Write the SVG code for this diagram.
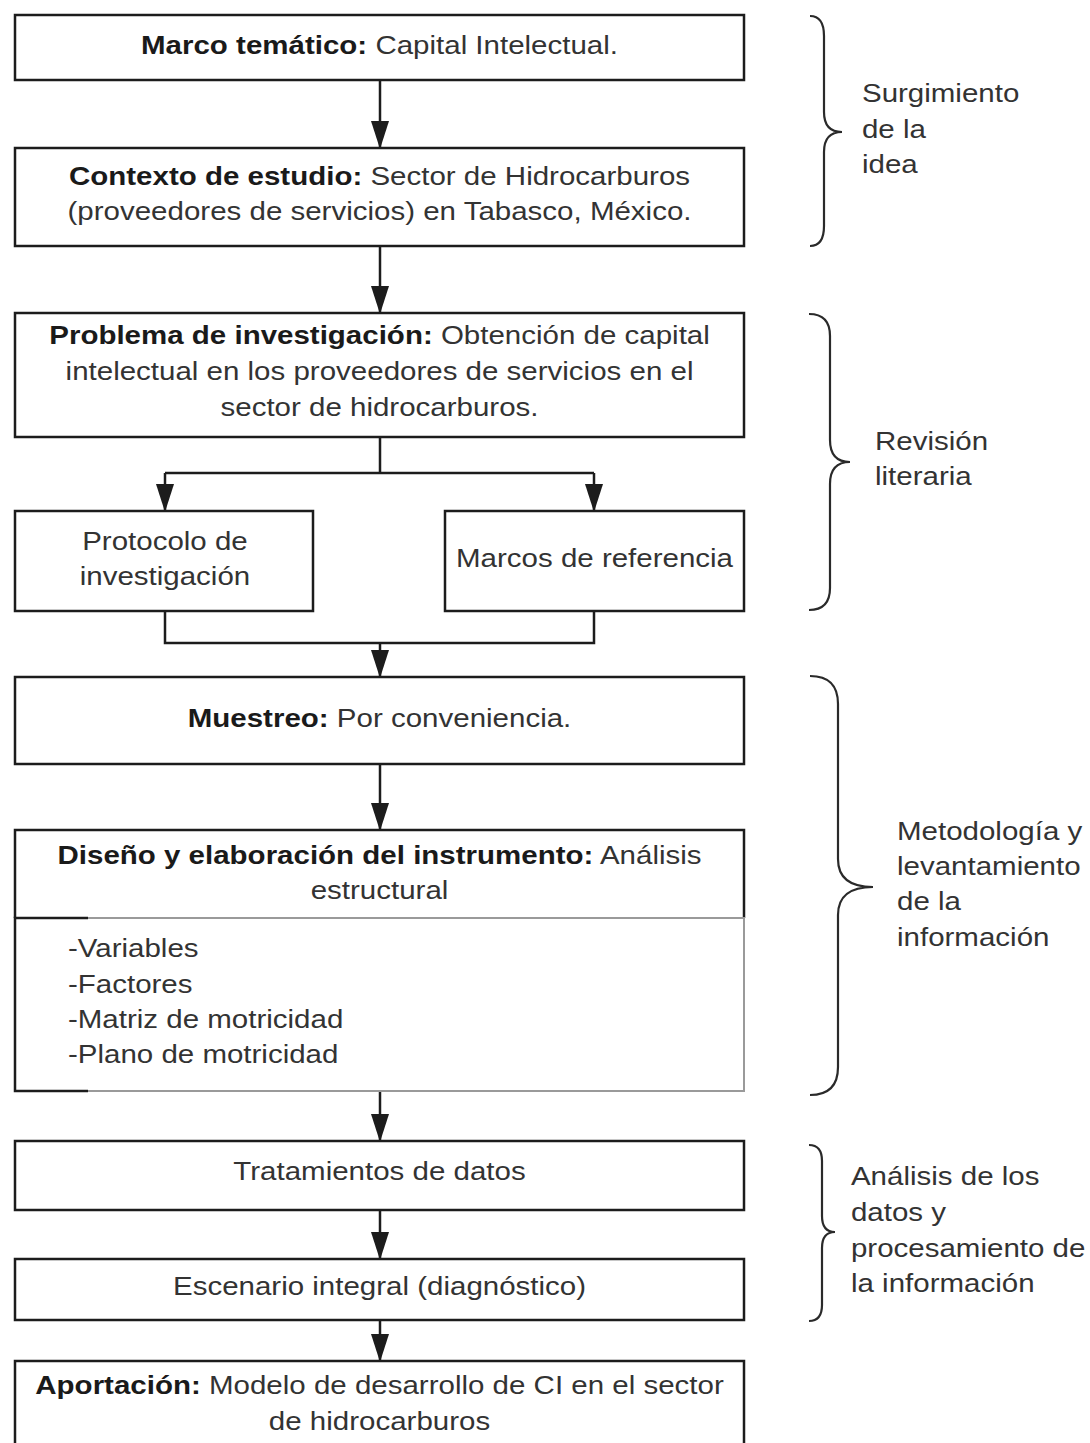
<svg xmlns="http://www.w3.org/2000/svg" width="1090" height="1443" viewBox="0 0 1090 1443">
<style>
.box{fill:#fff;stroke:#1c1c1c;stroke-width:2.5}
.ln{fill:none;stroke:#1c1c1c;stroke-width:2.5}
.gr{fill:none;stroke:#9a9a9a;stroke-width:2}
.br{fill:none;stroke:#2a2a2a;stroke-width:2.2}
text{font-family:"Liberation Sans",Arial,sans-serif;font-size:26px;fill:#333}
.c{text-anchor:middle}
.b{font-weight:bold;fill:#1a1a1a}
</style>
<defs>
<marker id="ah" viewBox="0 0 28 18" refX="27" refY="9" markerWidth="28" markerHeight="18" markerUnits="userSpaceOnUse" orient="auto">
<path d="M0,0 L28,9 L0,18 z" fill="#1c1c1c"/>
</marker>
</defs>
<rect width="1090" height="1443" fill="#fff"/>

<g id="connectors">
<path class="ln" d="M380,80 V148" marker-end="url(#ah)"/>
<path class="ln" d="M380,246 V313" marker-end="url(#ah)"/>
<path class="ln" d="M380,437 V473 M165,473 H594"/>
<path class="ln" d="M165,473 V511" marker-end="url(#ah)"/>
<path class="ln" d="M594,473 V511" marker-end="url(#ah)"/>
<path class="ln" d="M165,611 V643 H594 V611"/>
<path class="ln" d="M380,643 V677" marker-end="url(#ah)"/>
<path class="ln" d="M380,764 V830" marker-end="url(#ah)"/>
<path class="ln" d="M380,1091 V1141" marker-end="url(#ah)"/>
<path class="ln" d="M380,1210 V1259" marker-end="url(#ah)"/>
<path class="ln" d="M380,1320 V1361" marker-end="url(#ah)"/>
</g>

<g id="n-marco">
<rect class="box" x="15" y="15" width="729" height="65"/>
<text class="c" transform="scale(1.1346 1)" x="334.5" y="54"><tspan class="b">Marco temático:</tspan> Capital Intelectual.</text>
</g>

<g id="n-contexto">
<rect class="box" x="15" y="148" width="729" height="98"/>
<text class="c" transform="scale(1.1346 1)" x="334.5" y="185"><tspan class="b">Contexto de estudio:</tspan> Sector de Hidrocarburos</text>
<text class="c" transform="scale(1.1346 1)" x="334.5" y="220">(proveedores de servicios) en Tabasco, México.</text>
</g>

<g id="n-problema">
<rect class="box" x="15" y="313" width="729" height="124"/>
<text class="c" transform="scale(1.1346 1)" x="334.5" y="344"><tspan class="b">Problema de investigación:</tspan> Obtención de capital</text>
<text class="c" transform="scale(1.1346 1)" x="334.5" y="380">intelectual en los proveedores de servicios en el</text>
<text class="c" transform="scale(1.1346 1)" x="334.5" y="416">sector de hidrocarburos.</text>
</g>

<g id="n-protocolo">
<rect class="box" x="15" y="511" width="298" height="100"/>
<text class="c" transform="scale(1.1346 1)" x="145.4" y="550">Protocolo de</text>
<text class="c" transform="scale(1.1346 1)" x="145.4" y="585">investigación</text>
</g>

<g id="n-marcos">
<rect class="box" x="445" y="511" width="299" height="100"/>
<text class="c" transform="scale(1.1346 1)" x="524" y="567">Marcos de referencia</text>
</g>

<g id="n-muestreo">
<rect class="box" x="15" y="677" width="729" height="87"/>
<text class="c" transform="scale(1.1346 1)" x="334.5" y="727"><tspan class="b">Muestreo:</tspan> Por conveniencia.</text>
</g>

<g id="n-instrumento">
<rect x="15" y="830" width="729" height="261" fill="#fff"/>
<path class="ln" d="M15,918 V830 H744 V918"/>
<path class="gr" d="M88,918 H744 V1091 H88"/>
<path class="ln" d="M88,918 H15 V1091 H88"/>
<text class="c" transform="scale(1.1346 1)" x="334.5" y="864"><tspan class="b">Diseño y elaboración del instrumento:</tspan> Análisis</text>
<text class="c" transform="scale(1.1346 1)" x="334.5" y="899">estructural</text>
<text transform="scale(1.1346 1)" x="59.9" y="957">-Variables</text>
<text transform="scale(1.1346 1)" x="59.9" y="993">-Factores</text>
<text transform="scale(1.1346 1)" x="59.9" y="1028">-Matriz de motricidad</text>
<text transform="scale(1.1346 1)" x="59.9" y="1063">-Plano de motricidad</text>
</g>

<g id="n-tratamientos">
<rect class="box" x="15" y="1141" width="729" height="69"/>
<text class="c" transform="scale(1.1346 1)" x="334.5" y="1180">Tratamientos de datos</text>
</g>

<g id="n-escenario">
<rect class="box" x="15" y="1259" width="729" height="61"/>
<text class="c" transform="scale(1.1346 1)" x="334.5" y="1295">Escenario integral (diagnóstico)</text>
</g>

<g id="n-aportacion">
<rect class="box" x="15" y="1361" width="729" height="100"/>
<text class="c" transform="scale(1.1346 1)" x="334.5" y="1394"><tspan class="b">Aportación:</tspan> Modelo de desarrollo de CI en el sector</text>
<text class="c" transform="scale(1.1346 1)" x="334.5" y="1430">de hidrocarburos</text>
</g>

<g id="g-surgimiento">
<path class="br" d="M810,16 Q824,16 824,36 V112 Q824,132 842,132 Q824,132 824,152 V226 Q824,246 810,246"/>
<text transform="scale(1.1346 1)" x="759.7" y="102">Surgimiento</text>
<text transform="scale(1.1346 1)" x="759.7" y="138">de la</text>
<text transform="scale(1.1346 1)" x="759.7" y="173">idea</text>
</g>

<g id="g-revision">
<path class="br" d="M809,314 Q830,314 830,336 V440 Q830,462 850,462 Q830,462 830,484 V588 Q830,610 809,610"/>
<text transform="scale(1.1346 1)" x="771.2" y="450">Revisión</text>
<text transform="scale(1.1346 1)" x="771.2" y="485">literaria</text>
</g>

<g id="g-metodologia">
<path class="br" d="M810,676 Q838,676 838,704 V859 Q838,887 873,887 Q838,887 838,915 V1067 Q838,1095 810,1095"/>
<text transform="scale(1.1346 1)" x="790.6" y="840">Metodología y</text>
<text transform="scale(1.1346 1)" x="790.6" y="875">levantamiento</text>
<text transform="scale(1.1346 1)" x="790.6" y="910">de la</text>
<text transform="scale(1.1346 1)" x="790.6" y="946">información</text>
</g>

<g id="g-analisis">
<path class="br" d="M809,1145 Q822,1145 822,1161 V1216 Q822,1232 835,1232 Q822,1232 822,1248 V1305 Q822,1321 809,1321"/>
<text transform="scale(1.1346 1)" x="750" y="1185">Análisis de los</text>
<text transform="scale(1.1346 1)" x="750" y="1221">datos y</text>
<text transform="scale(1.1346 1)" x="750" y="1257">procesamiento de</text>
<text transform="scale(1.1346 1)" x="750" y="1292">la información</text>
</g>
</svg>
